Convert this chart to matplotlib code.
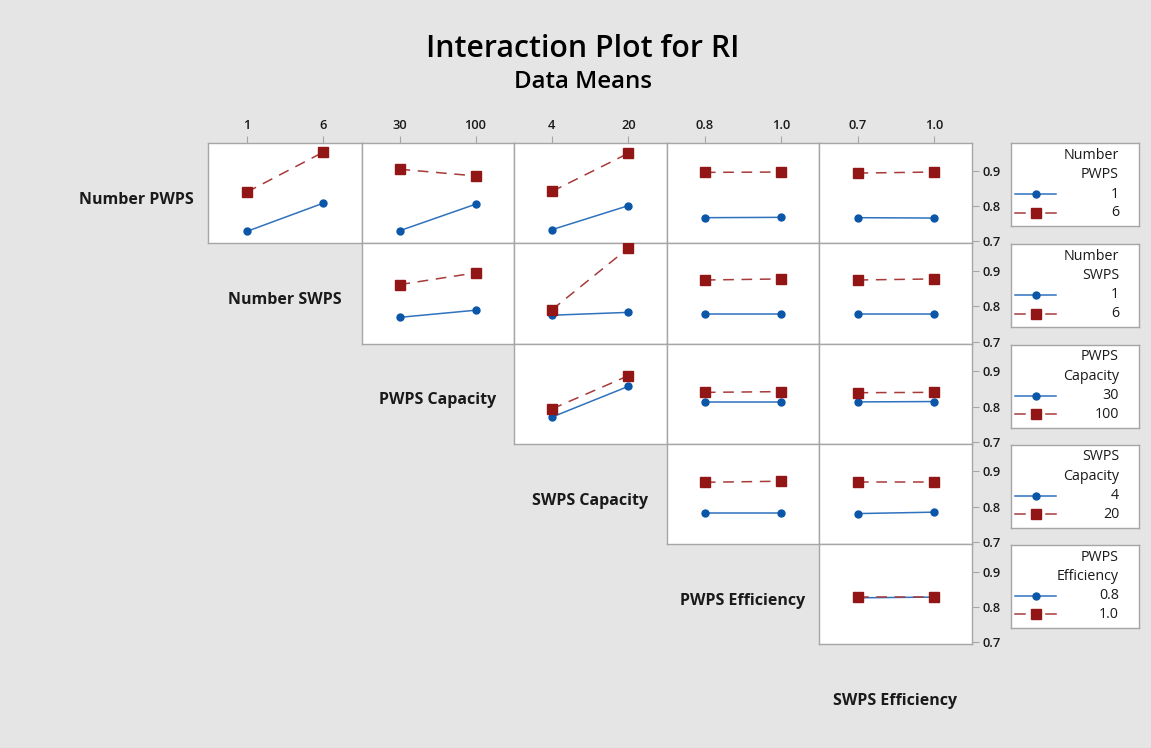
import matplotlib
matplotlib.use("Agg")
import matplotlib.pyplot as plt

plt.rcParams['font.family'] = ['Open Sans', 'DejaVu Sans']

# ---------------- data ----------------
factors = ["Number PWPS", "Number SWPS", "PWPS Capacity", "SWPS Capacity",
           "PWPS Efficiency", "SWPS Efficiency"]
legend_titles = ["Number\nPWPS", "Number\nSWPS", "PWPS\nCapacity", "SWPS\nCapacity",
                 "PWPS\nEfficiency"]
levels = [["1", "6"], ["1", "6"], ["30", "100"], ["4", "20"], ["0.8", "1.0"], ["0.7", "1.0"]]

# mean RI for (low level, high level) of the trace factor, per x factor (columns to the right)
num_pwps_low = [(0.728, 0.808), (0.730, 0.805), (0.733, 0.801), (0.767, 0.768), (0.767, 0.766)]
num_pwps_high = [(0.839, 0.952), (0.904, 0.885), (0.841, 0.949), (0.895, 0.896), (0.893, 0.896)]
num_swps_low = [(0.769, 0.789), (0.775, 0.783), (0.779, 0.779), (0.779, 0.779)]
num_swps_high = [(0.861, 0.894), (0.790, 0.964), (0.874, 0.877), (0.874, 0.877)]
pwps_cap_low = [(0.770, 0.857), (0.814, 0.814), (0.813, 0.814)]
pwps_cap_high = [(0.793, 0.887), (0.840, 0.842), (0.839, 0.840)]
swps_cap_low = [(0.782, 0.782), (0.781, 0.785)]
swps_cap_high = [(0.869, 0.872), (0.871, 0.871)]
pwps_eff_low = [(0.826, 0.828)]
pwps_eff_high = [(0.828, 0.828)]

low_means = [num_pwps_low, num_swps_low, pwps_cap_low, swps_cap_low, pwps_eff_low]
high_means = [num_pwps_high, num_swps_high, pwps_cap_high, swps_cap_high, pwps_eff_high]

y_ticks = [0.7, 0.8, 0.9]
y_limits = (0.6955, 0.978)

# ---------------- layout ----------------
W, H = 1151, 748
BG = "#e5e5e5"
BLUE = "#0a56a8"
BLUE_LINE = "#2f72bd"
RED = "#921616"
RED_LINE = "#a83a3a"
EDGE = "#a6a6a6"
TXT = "#1a1a1a"

fig = plt.figure(figsize=(W / 100, H / 100), dpi=100, facecolor=BG)

def fx(x):
    return x / W

def fy(y):
    return 1 - y / H

col_edges = [208.3, 361.5, 513.5, 666.7, 819.3, 972.3]
row_edges = [143, 243, 343.5, 443.5, 544, 644]

fig.text(fx(583), fy(49), "Interaction Plot for RI", ha="center", va="center",
         fontsize=21.8, weight="semibold", color="black")
fig.text(fx(583), fy(82), "Data Means", ha="center", va="center",
         fontsize=17.3, weight="semibold", color="black")

n_rows = len(low_means)
for i in range(n_rows):
    top, bot = row_edges[i], row_edges[i + 1]
    # factor label on the diagonal
    if i == 0:
        lx = 136
    else:
        lx = (col_edges[i - 1] + col_edges[i]) / 2
    fig.text(fx(lx), fy((top + bot) / 2 + 7), factors[i], ha="center", va="center",
             fontsize=11.5, weight="bold", color=TXT)
    for k, j in enumerate(range(i, 5)):
        left, right = col_edges[j], col_edges[j + 1]
        ax = fig.add_axes([fx(left), fy(bot), (right - left) / W, (bot - top) / H])
        ax.set_facecolor("white")
        xs = [0, 1]
        lo = low_means[i][k]
        hi = high_means[i][k]
        ax.plot(xs, lo, color=BLUE_LINE, lw=1.1, zorder=2)
        ax.plot(xs, lo, ls="none", marker="o", ms=5, color=BLUE, zorder=3)
        ax.plot(xs, hi, color=RED_LINE, lw=1.1, ls=(0, (7, 5)), zorder=2)
        ax.plot(xs, hi, ls="none", marker="s", ms=7, color=RED, zorder=4)
        ax.set_xlim(-0.5, 1.5)
        ax.set_ylim(*y_limits)
        for s in ax.spines.values():
            s.set_color(EDGE)
            s.set_linewidth(1.0)
        # x ticks on the top of the first row
        if i == 0:
            ax.xaxis.tick_top()
            ax.set_xticks(xs)
            ax.set_xticklabels(levels[j + 1], fontsize=9.3, weight="semibold", color=TXT)
            ax.tick_params(axis="x", direction="out", length=5, width=0.8, color=EDGE, pad=3)
        else:
            ax.set_xticks([])
        # y ticks on the right of the last column
        if j == 4:
            ax.yaxis.tick_right()
            ax.set_yticks(y_ticks)
            ax.set_yticklabels([f"{v:.1f}" for v in y_ticks], fontsize=9.3,
                               weight="semibold", color=TXT)
            ax.tick_params(axis="y", direction="out", length=5, width=0.8, color=EDGE, pad=2)
        else:
            ax.set_yticks([])

    # legend box for this trace factor
    lb_top = top + (0 if i == 0 else 1)
    lb_bot = lb_top + 83
    lax = fig.add_axes([fx(1010.7), fy(lb_bot), (1139 - 1010.7) / W, (lb_bot - lb_top) / H])
    lax.set_xlim(1010.7, 1139)
    lax.set_ylim(lb_bot, lb_top)
    lax.set_facecolor("white")
    lax.set_xticks([])
    lax.set_yticks([])
    for s in lax.spines.values():
        s.set_color(EDGE)
        s.set_linewidth(1.0)
    t1, t2 = legend_titles[i].split("\n")
    lax.text(1119, lb_top + 12.5, t1, ha="right", va="center", fontsize=10.3, color=TXT)
    lax.text(1119, lb_top + 31.5, t2, ha="right", va="center", fontsize=10.3, color=TXT)
    lev = levels[i]
    y1, y2 = lb_top + 51, lb_top + 69.5
    lax.plot([1015, 1056], [y1, y1], color=BLUE_LINE, lw=1.1)
    lax.plot([1036], [y1], marker="o", ms=5, color=BLUE, ls="none")
    lax.plot([1015, 1025], [y2, y2], color=RED_LINE, lw=1.1)
    lax.plot([1046, 1056], [y2, y2], color=RED_LINE, lw=1.1)
    lax.plot([1036], [y2], marker="s", ms=7, color=RED, ls="none")
    lax.text(1119, y1, lev[0], ha="right", va="center", fontsize=10.3, color=TXT)
    lax.text(1119, y2, lev[1], ha="right", va="center", fontsize=10.3, color=TXT)

# label for the last factor (below last panel)
fig.text(fx(895), fy(701), factors[5], ha="center", va="center",
         fontsize=11.5, weight="bold", color=TXT)

fig.savefig("out.png", dpi=100, facecolor=BG)
